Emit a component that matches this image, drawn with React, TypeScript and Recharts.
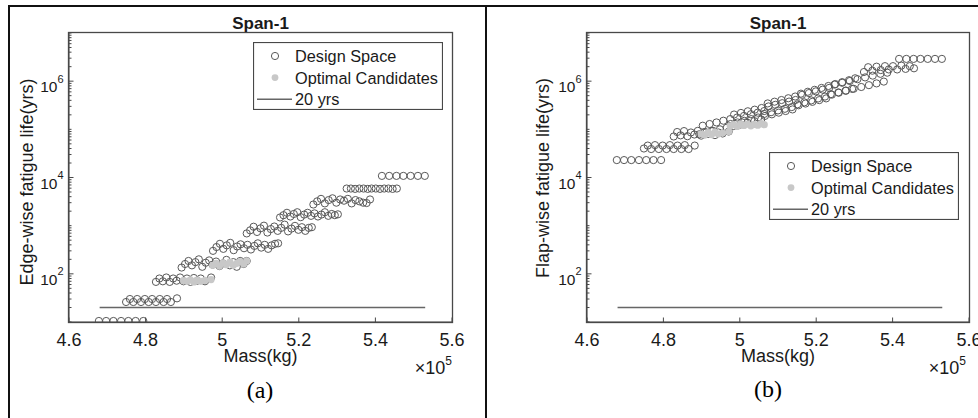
import React from 'react'
import { ScatterChart, Scatter, XAxis, YAxis, Legend } from 'recharts'

const massTicks = [4.6, 4.8, 5, 5.2, 5.4, 5.6]
const massTickLabels = ['4.6', '4.8', '5', '5.2', '5.4', '5.6']
const lifeMajorTicks = [100, 10000, 1000000]
const lifeMajorExp = ['2', '4', '6']
const lifeDecades = [10, 100, 1000, 10000, 100000, 1000000]
const lifeMinorSteps = [2, 3, 4, 5, 6, 7, 8, 9]
const legendLabels = ['Design Space', 'Optimal Candidates', '20 yrs']

// design masses (x1e5 kg), one list per step row seen in the plots
const massRows = [
  [4.678, 4.697, 4.716, 4.736, 4.755, 4.774, 4.794],
  [4.749, 4.759, 4.768, 4.778, 4.788, 4.798, 4.808, 4.817, 4.827, 4.837, 4.847, 4.856, 4.866, 4.882],
  [4.827, 4.836, 4.845, 4.854, 4.863, 4.872, 4.881, 4.89, 4.899, 4.908, 4.917, 4.926, 4.935, 4.944, 4.955, 4.971],
  [4.894, 4.903, 4.912, 4.921, 4.93, 4.939, 4.948, 4.957, 4.966, 4.975, 4.984, 4.993, 5.002, 5.011, 5.02, 5.029, 5.038, 5.047, 5.056, 5.064],
  [4.976, 4.985, 4.994, 5.003, 5.012, 5.021, 5.03, 5.039, 5.048, 5.057, 5.066, 5.075, 5.084, 5.093, 5.102, 5.111, 5.12, 5.129, 5.138, 5.146],
  [5.064, 5.073, 5.082, 5.091, 5.1, 5.109, 5.118, 5.127, 5.136, 5.145, 5.154, 5.163, 5.172, 5.181, 5.19, 5.199, 5.208, 5.217, 5.226, 5.234],
  [5.151, 5.16, 5.169, 5.178, 5.187, 5.196, 5.205, 5.214, 5.223, 5.232, 5.241, 5.25, 5.259, 5.268, 5.277, 5.286, 5.294, 5.302],
  [5.238, 5.248, 5.258, 5.268, 5.278, 5.288, 5.298, 5.308, 5.318, 5.328, 5.338, 5.348, 5.358, 5.368, 5.377, 5.386],
  [5.325, 5.336, 5.347, 5.358, 5.369, 5.38, 5.39, 5.401, 5.412, 5.423, 5.434, 5.445, 5.456],
  [5.417, 5.436, 5.455, 5.473, 5.492, 5.511, 5.529],
]

const edgeLifeRows = [
  [10.5, 10.5, 10.5, 10.5, 10.5, 10.5, 10.5],
  [26, 30, 26, 30, 26, 30, 26, 30, 26, 30, 26, 30, 26, 31],
  [68, 80, 70, 84, 68, 80, 72, 84, 70, 80, 68, 82, 72, 80, 70, 84],
  [135, 160, 185, 150, 175, 200, 140, 170, 190, 155, 180, 145, 165, 195, 150, 175, 140, 185, 160, 185],
  [300, 360, 420, 330, 390, 440, 310, 370, 410, 340, 400, 320, 380, 430, 350, 400, 330, 390, 420, 430],
  [690, 800, 950, 740, 880, 1000, 720, 850, 960, 780, 900, 1050, 760, 870, 990, 820, 930, 780, 900, 930],
  [1480, 1650, 1850, 1550, 1750, 1900, 1500, 1700, 1850, 1600, 1800, 1550, 1700, 1900, 1600, 1750, 1650, 1720],
  [2750, 3200, 3600, 2900, 3400, 3700, 3000, 3500, 3300, 3600, 2900, 3400, 3200, 3000, 2950, 3500],
  [5900, 5900, 5800, 5900, 5900, 5800, 5900, 5900, 5800, 5900, 5900, 5800, 5900],
  [10800, 10800, 10800, 10800, 10800, 10800, 10800],
]

const flapLifeRows = [
  [23000, 23000, 23000, 23000, 23000, 23000, 23000],
  [40000, 46000, 39000, 47000, 39000, 46000, 39000, 47000, 39000, 46000, 39000, 47000, 39000, 46000],
  [71000, 88000, 75000, 92000, 72000, 86000, 78000, 93000, 74000, 88000, 80000, 92000, 76000, 86000, 82000, 90000],
  [79000, 119000, 86000, 129000, 93000, 139000, 100000, 151000, 108000, 163000, 117000, 176000, 126000, 190000, 137000, 206000, 148000, 222000, 160000, 240000],
  [129000, 203000, 139000, 219000, 150000, 237000, 163000, 256000, 176000, 277000, 190000, 299000, 205000, 323000, 222000, 349000, 240000, 377000, 259000, 407000],
  [209000, 345000, 227000, 375000, 247000, 406000, 267000, 442000, 290000, 480000, 316000, 521000, 343000, 566000, 372000, 614000, 404000, 667000, 439000, 724000],
  [331000, 550000, 363000, 603000, 398000, 661000, 437000, 724000, 479000, 794000, 525000, 871000, 575000, 955000, 631000, 1047000, 692000, 1148000],
  [537000, 849000, 585000, 925000, 638000, 1007000, 695000, 1099000, 757000, 1197000, 826000, 1303000, 899000, 1422000, 980000, 1500000],
  [1550000, 1950000, 1650000, 2000000, 1700000, 2050000, 1750000, 2050000, 1750000, 2100000, 1800000, 2050000, 1850000],
  [2900000, 2900000, 2900000, 2900000, 2900000, 2900000, 2900000],
]

const optMass = [4.899, 4.908, 4.917, 4.926, 4.935, 4.944, 4.955, 4.971, 4.975, 4.984, 4.993, 5.002, 5.011, 5.02, 5.029, 5.038, 5.047, 5.056, 5.064]
const optEdgeLife = [72, 70, 75, 68, 74, 70, 73, 76, 150, 165, 145, 170, 155, 175, 150, 165, 180, 160, 185]
const optFlapLife = [80000, 76000, 86000, 78000, 88000, 80000, 84000, 90000, 118000, 125000, 115000, 130000, 120000, 128000, 118000, 126000, 122000, 132000, 125000]

const limitMass = [4.68, 5.53]
const limitLife = 20

const AXIS = '#484848'
const CIRCLE = '#595959'
const OPT = '#c8c8c8'
const LIMIT = '#666666'
const INK = '#1a1a1a'
const SANS = '"Liberation Sans", Arial, Helvetica, sans-serif'

const PLOT_TOP = 33
const PLOT_BOTTOM = 322

const lifeTicks = lifeDecades.flatMap((d) => [d, ...lifeMinorSteps.map((s) => s * d)]).concat(10000000)

function MassTick(props: any) {
  const { x, payload, side } = props
  const i = massTicks.indexOf(payload.value)
  const bottom = side === 'bottom'
  const y0 = bottom ? PLOT_BOTTOM : PLOT_TOP
  return (
    <g>
      <line x1={x} x2={x} y1={y0} y2={bottom ? y0 - 4.5 : y0 + 4.5} stroke={AXIS} />
      {bottom && (
        <text x={x} y={y0 + 24} textAnchor="middle" fontSize={18} fill={INK} fontFamily={SANS}>
          {massTickLabels[i]}
        </text>
      )}
    </g>
  )
}

function LifeTick(props: any) {
  const { y, payload, side, x0 } = props
  const i = lifeMajorTicks.indexOf(payload.value)
  const len = i >= 0 ? 4.5 : 2.5
  const dir = side === 'left' ? 1 : -1
  return (
    <g>
      <line x1={x0} x2={x0 + dir * len} y1={y} y2={y} stroke={AXIS} />
      {side === 'left' && i >= 0 && (
        <text x={x0 - 5.5} y={y + 11} textAnchor="end" fontSize={15.5} fill={INK} fontFamily={SANS}>
          10<tspan dy={-9.5} fontSize={11}>{lifeMajorExp[i]}</tspan>
        </text>
      )}
    </g>
  )
}

function LegendBox() {
  return (
    <svg width={190} height={68} style={{ display: 'block' }}>
      <rect x={0.5} y={0.5} width={189} height={67} fill="#fff" stroke={AXIS} strokeWidth={1.2} />
      {legendLabels.map((label, k) => {
        const cy = 14 + k * 21.6
        return (
          <g key={label}>
            {k === 0 && <circle cx={22} cy={cy} r={3.6} fill="none" stroke={CIRCLE} />}
            {k === 1 && <circle cx={22} cy={cy} r={3.4} fill={OPT} />}
            {k === 2 && <line x1={4} x2={39} y1={cy} y2={cy} stroke={LIMIT} strokeWidth={1.5} />}
            <text x={42} y={cy + 6} fontSize={16.3} fill={INK} fontFamily={SANS}>{label}</text>
          </g>
        )
      })}
    </svg>
  )
}

const ring = (p: any) => <circle cx={p.cx} cy={p.cy} r={3.6} fill="none" stroke={CIRCLE} strokeWidth={1} />
const dot = (p: any) => <circle cx={p.cx} cy={p.cy} r={3.6} fill={OPT} />
const noMark = () => <g />

function Panel({ lifeRows, optLife, yWidth, right, legendLeft, legendTop }: any) {
  const design = massRows.flatMap((row, i) => row.map((m, j) => ({ x: m, y: lifeRows[i][j] })))
  const optimal = optMass.map((m, j) => ({ x: m, y: optLife[j] }))
  const limit = limitMass.map((m) => ({ x: m, y: limitLife }))
  const plotRight = 489 - right
  return (
    <ScatterChart width={489} height={418} margin={{ top: PLOT_TOP, right, bottom: 66, left: 0 }}>
      <XAxis xAxisId="b" type="number" dataKey="x" domain={[4.6, 5.6]} ticks={massTicks} interval={0}
        allowDataOverflow height={30} tickSize={0} tickMargin={0} axisLine={{ stroke: AXIS }} tickLine={false}
        tick={(p: any) => <MassTick {...p} side="bottom" />} />
      <XAxis xAxisId="t" orientation="top" type="number" dataKey="x" domain={[4.6, 5.6]} ticks={massTicks} interval={0}
        allowDataOverflow height={0} tickSize={0} tickMargin={0} axisLine={{ stroke: AXIS }} tickLine={false}
        tick={(p: any) => <MassTick {...p} side="top" />} />
      <YAxis yAxisId="l" type="number" dataKey="y" scale="log" domain={[10, 10000000]} ticks={lifeTicks} interval={0}
        allowDataOverflow width={yWidth} tickSize={0} tickMargin={0} axisLine={{ stroke: AXIS }} tickLine={false}
        tick={(p: any) => <LifeTick {...p} side="left" x0={yWidth} />} />
      <YAxis yAxisId="r" orientation="right" type="number" dataKey="y" scale="log" domain={[10, 10000000]} ticks={lifeTicks} interval={0}
        allowDataOverflow width={0} tickSize={0} tickMargin={0} axisLine={{ stroke: AXIS }} tickLine={false}
        tick={(p: any) => <LifeTick {...p} side="right" x0={plotRight} />} />
      <Scatter name="Design Space" xAxisId="b" yAxisId="l" data={design} shape={ring} isAnimationActive={false} />
      <Scatter name="Optimal Candidates" xAxisId="b" yAxisId="l" data={optimal} shape={dot} isAnimationActive={false} />
      <Scatter name="20 yrs" xAxisId="b" yAxisId="l" data={limit} shape={noMark} line={{ stroke: LIMIT, strokeWidth: 1.5 }} isAnimationActive={false} />
      <Legend layout="horizontal" verticalAlign="middle" align="center" content={<LegendBox />}
        wrapperStyle={{ left: legendLeft, top: legendTop, width: 190, height: 68 }} />
    </ScatterChart>
  )
}

export default function App() {
  return (
    <div style={{ position: 'absolute', left: 0, top: 0, width: 978, height: 418, background: '#fff', overflow: 'hidden' }}>
      <div style={{ position: 'absolute', left: 0, top: 0 }}>
        <Panel lifeRows={edgeLifeRows} optLife={optEdgeLife} yWidth={69} right={37} legendLeft={253} legendTop={42} />
      </div>
      <div style={{ position: 'absolute', left: 489, top: 0 }}>
        <Panel lifeRows={flapLifeRows} optLife={optFlapLife} yWidth={98} right={9} legendLeft={280} legendTop={152} />
      </div>
      <svg width={978} height={418} style={{ position: 'absolute', left: 0, top: 0, pointerEvents: 'none' }}>
        <rect x={68.5} y={PLOT_TOP - 0.5} width={384} height={PLOT_BOTTOM - PLOT_TOP + 1} fill="none" stroke={AXIS} strokeWidth={1.3} />
        <rect x={586.5} y={PLOT_TOP - 0.5} width={383} height={PLOT_BOTTOM - PLOT_TOP + 1} fill="none" stroke={AXIS} strokeWidth={1.3} />
        <line x1={8} x2={978} y1={6} y2={6} stroke="#111" strokeWidth={2} />
        <line x1={9} x2={9} y1={5} y2={418} stroke="#111" strokeWidth={2} />
        <line x1={486} x2={486} y1={5} y2={418} stroke="#111" strokeWidth={2} />
        <g fontFamily={SANS} fill={INK}>
          <text x={260.5} y={29} fontSize={17} fontWeight="bold" textAnchor="middle">Span-1</text>
          <text x={778} y={29} fontSize={17} fontWeight="bold" textAnchor="middle">Span-1</text>
          <text transform="translate(33,182) rotate(-90)" fontSize={18} textAnchor="middle">Edge-wise fatigue life(yrs)</text>
          <text transform="translate(549,178) rotate(-90)" fontSize={18} textAnchor="middle">Flap-wise fatigue life(yrs)</text>
          <text x={260.5} y={362} fontSize={18} textAnchor="middle">Mass(kg)</text>
          <text x={778} y={362} fontSize={18} textAnchor="middle">Mass(kg)</text>
          <text x={452} y={374} fontSize={18} textAnchor="end">×10<tspan dy={-9} fontSize={12}>5</tspan></text>
          <text x={966} y={374} fontSize={18} textAnchor="end">×10<tspan dy={-9} fontSize={12}>5</tspan></text>
        </g>
        <g fontFamily='"Liberation Serif", "Times New Roman", serif' fill="#000" fontSize={24} textAnchor="middle">
          <text x={260} y={398}>(a)</text>
          <text x={768} y={397}>(b)</text>
        </g>
      </svg>
    </div>
  )
}
